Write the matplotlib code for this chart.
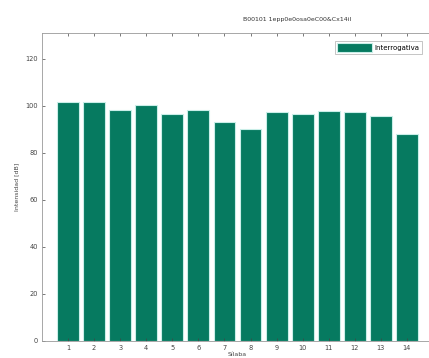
import numpy as np
import matplotlib
matplotlib.use('Agg')
import matplotlib.pyplot as plt

# datos
silabas = list(range(1, 15))
intensidad = [101.4, 101.7, 98.0, 100.1, 96.6, 98.0, 93.0,
              90.1, 97.3, 96.6, 97.5, 97.1, 95.4, 87.9]
yticks = [0, 20, 40, 60, 80, 100, 120]

fig = plt.figure(figsize=(4.29, 3.58), dpi=100)
ax = fig.add_axes([42/429, 1 - 340.7/358, (433 - 42)/429, (340.7 - 32.7)/358])

ax.bar(silabas, intensidad, width=0.84, color='#067a60',
       edgecolor='#c9eee8', linewidth=0.8, label='Interrogativa')

ax.set_xlim(0, 15)
ax.set_ylim(0, 131)
ax.set_xticks(silabas)
ax.set_yticks(yticks)
ax.tick_params(direction='in', length=2, width=0.5, labelsize=4.8,
               colors='#444444', top=True, right=True, pad=3)
for s in ax.spines.values():
    s.set_color('#999999')
    s.set_linewidth(0.6)

ax.set_ylabel('Intensidad [dB]', fontsize=4.5, color='#444444', labelpad=4)
ax.set_xlabel('Sílaba', fontsize=4.5, color='#444444', labelpad=0.5)

fig.text(297/429, 1 - 19/358, 'B00101 1epp0e0osa0eC00&Cx14il',
         fontsize=4.5, ha='center', va='center', color='#333333')

leg = ax.legend(loc='upper right', bbox_to_anchor=((425 - 42)/391, 1 - 5/308),
                fontsize=5, frameon=True, fancybox=False,
                handlelength=5, handleheight=1.6, borderpad=0.3,
                handletextpad=0.4)
leg.get_frame().set_edgecolor('#999999')
leg.get_frame().set_linewidth(0.5)

fig.savefig('out.png', dpi=100)
